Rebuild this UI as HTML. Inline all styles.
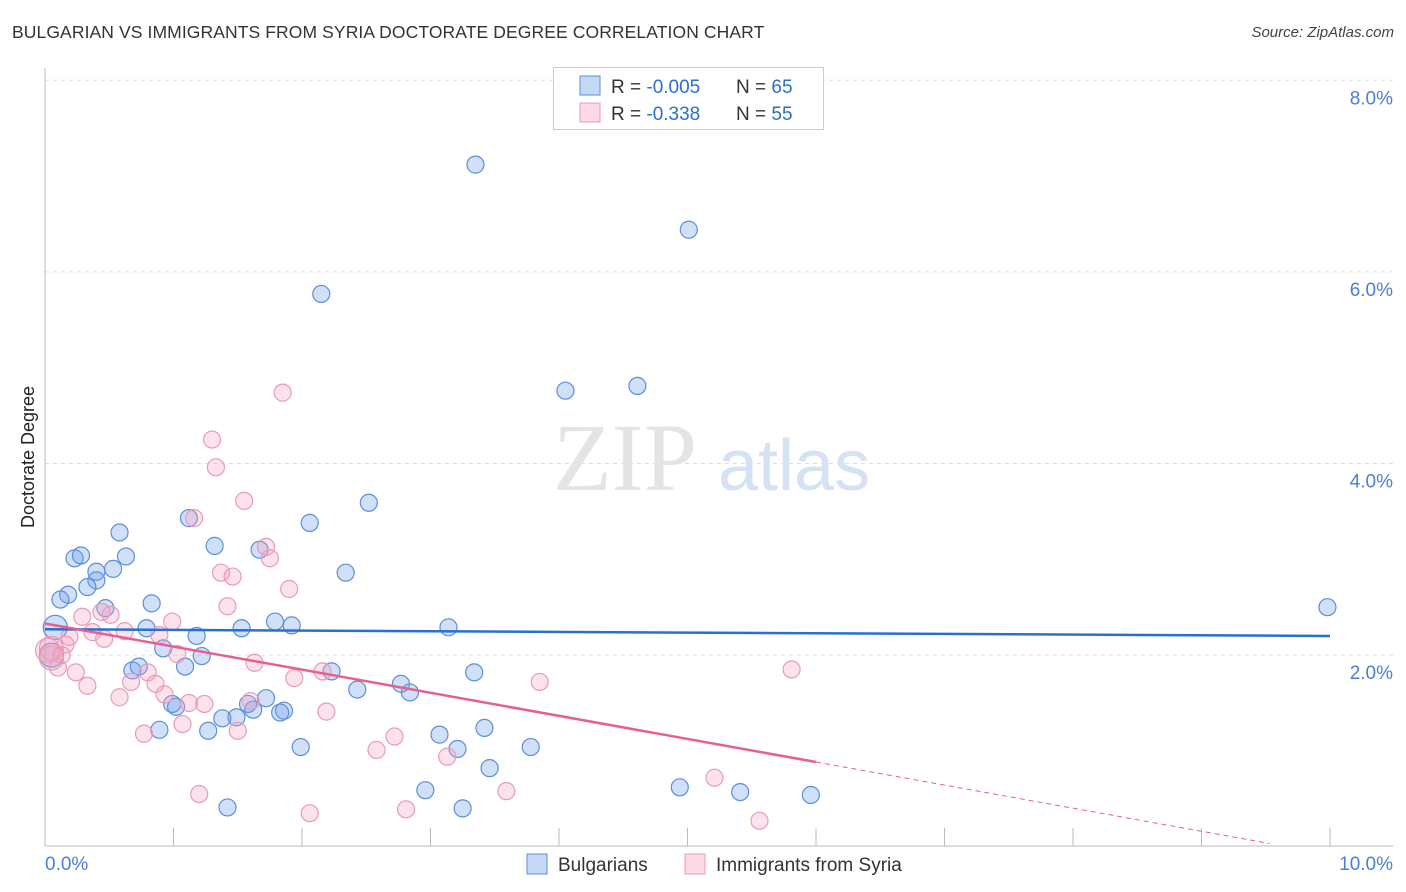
<!DOCTYPE html>
<html><head><meta charset="utf-8"><style>
body{margin:0;background:#fff;font-family:"Liberation Sans",sans-serif;}
#wrap{position:relative;width:1406px;height:892px;overflow:hidden;}
.title{position:absolute;left:12px;top:22px;font-size:17.5px;color:#333;letter-spacing:0.1px}
.src{position:absolute;right:12px;top:24px;font-size:15px;color:#444;font-style:italic}
</style></head><body>
<div id="wrap">
<div class="title">BULGARIAN VS IMMIGRANTS FROM SYRIA DOCTORATE DEGREE CORRELATION CHART</div>
<div class="src">Source: ZipAtlas.com</div>
<svg id="svg" width="1406" height="892" style="position:absolute;left:0;top:0"></svg>
</div>
<script>
const yTicks=[2,4,6,8];
const yTickLabels=["2.0%","4.0%","6.0%","8.0%"];
const xLabels=["0.0%","10.0%"];
const blueX=[3.35,5.01,2.15,4.05,4.61,2.52,1.12,2.06,0.58,1.32,1.67,0.63,0.23,0.28,0.53,0.40,0.40,2.34,0.33,0.18,0.12,0.83,0.47,9.98,0.08,0.79,1.53,1.79,1.92,3.14,1.18,0.92,1.22,0.05,1.09,0.68,0.73,2.23,3.34,2.43,2.77,2.84,1.72,1.58,1.62,1.86,1.83,1.02,0.99,1.49,1.38,1.27,0.89,3.42,3.07,3.21,3.78,1.99,3.46,2.96,4.94,5.41,5.96,1.42,3.25];
const blueY=[7.12,6.44,5.77,4.76,4.81,3.59,3.43,3.38,3.28,3.14,3.10,3.03,3.01,3.04,2.90,2.87,2.78,2.86,2.71,2.63,2.58,2.54,2.49,2.50,2.29,2.28,2.28,2.35,2.31,2.29,2.20,2.07,1.99,2.00,1.88,1.84,1.88,1.83,1.82,1.64,1.70,1.61,1.55,1.49,1.43,1.42,1.40,1.46,1.49,1.35,1.34,1.21,1.22,1.24,1.17,1.02,1.04,1.04,0.82,0.59,0.62,0.57,0.54,0.41,0.40];
const pinkX=[1.85,1.30,1.33,1.55,1.16,1.72,1.75,1.37,1.46,1.90,1.42,0.44,0.51,0.29,0.99,0.62,0.37,0.89,0.19,0.46,0.16,0.05,0.10,1.03,1.63,0.24,0.80,2.16,5.81,0.67,0.86,1.94,3.85,0.33,0.93,0.58,1.12,1.24,1.60,2.19,1.07,1.50,0.77,2.72,2.58,3.13,5.21,1.20,3.59,2.81,2.06,5.56,0.05,0.02,0.13];
const pinkY=[4.74,4.25,3.96,3.61,3.43,3.13,3.01,2.86,2.82,2.69,2.51,2.45,2.42,2.40,2.35,2.25,2.24,2.21,2.19,2.17,2.11,2.07,1.87,2.01,1.92,1.82,1.82,1.83,1.85,1.72,1.70,1.76,1.72,1.68,1.59,1.56,1.50,1.49,1.52,1.41,1.28,1.21,1.18,1.15,1.01,0.94,0.72,0.55,0.58,0.39,0.35,0.27,1.97,2.05,2.00];
const blueTrend=[2.27,2.20];
const pinkTrend=[2.33,-0.241];
const NS="http://www.w3.org/2000/svg";
const svg=document.getElementById('svg');
const X=v=>45+v*128.5, Y=v=>846.7-v*95.8;
function mk(t,a,p){const e=document.createElementNS(NS,t);for(const k in a)e.setAttribute(k,a[k]);(p||svg).appendChild(e);return e;}
// grid
yTicks.forEach((t,i)=>{
 const g=mk('line',{x1:45,x2:1393,y1:Y(t),y2:Y(t),stroke:'#ddd','stroke-dasharray':'4,4'});
 
 
 const tx=mk('text',{x:1393,y:Y(t)+24,'text-anchor':'end','font-size':19,fill:'#4a7fd4'});
 tx.textContent=yTickLabels[i];
 
 
});
let a=mk('line',{x1:45,x2:45,y1:68,y2:846,stroke:'#bbb'});


a=mk('line',{x1:45,x2:1393,y1:846,y2:846,stroke:'#bbb'});


for(let i=0;i<=10;i++){const t=mk('line',{x1:X(i),x2:X(i),y1:828,y2:846,stroke:'#bbb'});
 
 }
let xl=mk('text',{x:45,y:870,'font-size':19,fill:'#4a7fd4'});xl.textContent=xLabels[0];


xl=mk('text',{x:1393,y:870,'text-anchor':'end','font-size':19,fill:'#4a7fd4'});xl.textContent=xLabels[1];


let yt=mk('text',{x:34,y:457,'font-size':18,fill:'#222',transform:'rotate(-90 34 457)','text-anchor':'middle'});yt.textContent='Doctorate Degree';


// watermark
let w=mk('text',{x:553,y:490,'font-size':96,fill:'#e4e4e4','font-family':'Liberation Serif'});w.textContent='ZIP';


w=mk('text',{x:718,y:490,'font-size':72,fill:'#d4e2f4'});w.textContent='atlas';


// points
function pts(xs,ys,fill,stroke,name){xs.forEach((x,i)=>{const r=(x<0.1)?12:8.5;
 const c=mk('circle',{cx:X(x),cy:Y(ys[i]),r:r,fill:fill,stroke:stroke,'stroke-width':1.2});
 
 });}
pts(blueX,blueY,'rgba(110,160,235,0.32)','#5b8fd9','bulgarian-point');
pts(pinkX,pinkY,'rgba(245,160,190,0.30)','#eb9ab6','syria-point');
// trends
let l=mk('line',{x1:X(0),y1:Y(blueTrend[0]),x2:X(10),y2:Y(blueTrend[1]),stroke:'#2a6fd0','stroke-width':2.5});


l=mk('line',{x1:X(0),y1:Y(pinkTrend[0]),x2:X(6),y2:Y(pinkTrend[0]+pinkTrend[1]*6),stroke:'#e5608e','stroke-width':2.5});


l=mk('line',{x1:X(6),y1:Y(pinkTrend[0]+pinkTrend[1]*6),x2:X(9.53),y2:Y(pinkTrend[0]+pinkTrend[1]*9.53),stroke:'#e5608e','stroke-width':1,'stroke-dasharray':'5,4'});


// top legend
let box=mk('rect',{x:553.5,y:67.5,width:270,height:62,fill:'#fff',stroke:'#ccc'});


[[ 'rgba(110,160,235,0.4)','#5b8fd9','-0.005','65',86],['rgba(245,160,190,0.4)','#eb9ab6','-0.338','55',113]].forEach((r,i)=>{
 const s=mk('rect',{x:580,y:r[4]-10,width:20,height:19,fill:r[0],stroke:r[1]});
 
 
 const t=mk('text',{x:611,y:r[4]+7,'font-size':19,fill:'#333'});
 t.innerHTML='R = <tspan fill="#2a6fd0">'+(i?' ':'')+r[2]+'</tspan>   <tspan x="736">N = </tspan><tspan fill="#2a6fd0">'+r[3]+'</tspan>';
 
 
});
// bottom legend
[['rgba(110,160,235,0.4)','#5b8fd9','Bulgarians',527],['rgba(245,160,190,0.4)','#eb9ab6','Immigrants from Syria',685]].forEach(r=>{
 const s=mk('rect',{x:r[3],y:854,width:20,height:20,fill:r[0],stroke:r[1]});
 
 
 const t=mk('text',{x:r[3]+31,y:871,'font-size':19,fill:'#333'});t.textContent=r[2];
 
 
});
</script>
</body></html>
